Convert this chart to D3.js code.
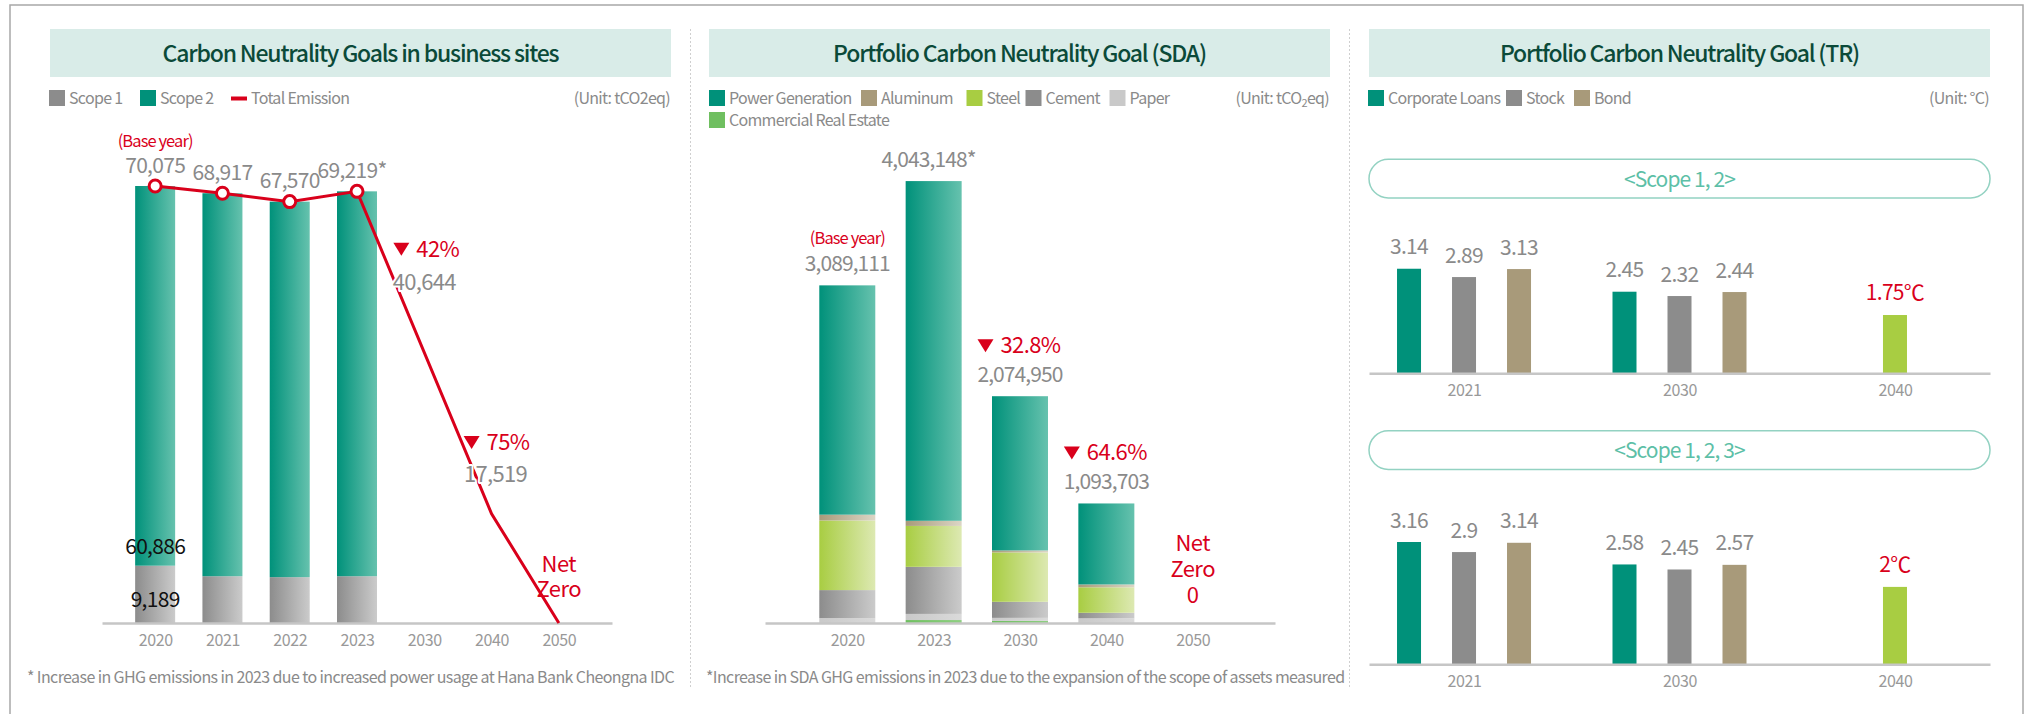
<!DOCTYPE html>
<html><head><meta charset="utf-8">
<script src="https://cdn.jsdelivr.net/npm/d3@7"></script>
<style>body{margin:0;background:#fff}svg{display:block}</style>
</head><body>
<script>
// ================= DATA =================
// Panel 1 : Carbon Neutrality Goals in business sites (tCO2eq)
const siteYears = ['2020','2021','2022','2023','2030','2040','2050'];
const siteBarYears = ['2020','2021','2022','2023'];
const siteScope1 = [9189, 7500, 7350, 7500];
const siteScope2 = [60886, 61417, 60220, 61719];
const siteTotals = [70075, 68917, 67570, 69219, 40644, 17519, 0];
const siteLineYears = ['2020','2021','2022','2023','2040','2050'];
const siteLineValues = [70075, 68917, 67570, 69219, 17519, 0];
const siteCutYears = ['2030','2040'];
const siteCuts = ['42%','75%'];

// Panel 2 : Portfolio Carbon Neutrality Goal (SDA) (tCO2eq)
const sdaYears = ['2020','2023','2030','2040','2050'];
const sdaTotals = [3089111, 4043148, 2074950, 1093703, 0];
const sdaPower = [2098000, 3108000, 1411000, 741000, 0];
const sdaAluminum = [53000, 47000, 18000, 26000, 0];
const sdaSteel = [637000, 374000, 452000, 233000, 0];
const sdaCement = [256000, 431000, 147000, 51000, 0];
const sdaPaper = [45111, 56000, 28000, 42703, 0];
const sdaRealEstate = [0, 27148, 18950, 0, 0];
const sdaCutYears = ['2030','2040'];
const sdaCuts = ['32.8%','64.6%'];

// Panel 3 : Portfolio Carbon Neutrality Goal (TR) (°C)
const trYears = ['2021','2030','2040'];
const trSeries = ['Corporate Loans','Stock','Bond'];
const trS12Loans = [3.14, 2.45];
const trS12Stock = [2.89, 2.32];
const trS12Bond = [3.13, 2.44];
const trS12Target = 1.75;   // 2040
const trS123Loans = [3.16, 2.58];
const trS123Stock = [2.9, 2.45];
const trS123Bond = [3.14, 2.57];
const trS123Target = 2;     // 2040

// ================= STYLE =================
const C = {
  teal:'#00917a', tealL:'#66c2ae', gray:'#8c8c8c', grayL:'#cbcbcb',
  tan:'#a89a7a', tanL:'#dcd6c6', lime:'#a8cd42', limeL:'#dde9b2',
  paper:'#c9c9c9', paperL:'#dadada', cre:'#6fbf60', red:'#d9001b',
  txt:'#8a8a8a', axis:'#c6c6c6', title:'#0b4a39', titleBg:'#d9ece8'
};
const FONT = "'Noto Sans CJK KR','Noto Sans',sans-serif";

const svg = d3.select('body').append('svg').attr('width',2037).attr('height',714)
  .style('font-family', FONT);
const defs = svg.append('defs');
function grad(id, c0, c1){
  const g = defs.append('linearGradient').attr('id',id).attr('x1',0).attr('x2',1).attr('y1',0).attr('y2',0);
  g.append('stop').attr('offset',0).attr('stop-color',c0);
  g.append('stop').attr('offset',1).attr('stop-color',c1);
  return `url(#${id})`;
}
const G = {
  teal: grad('gTeal', C.teal, C.tealL),
  gray: grad('gGray', C.gray, C.grayL),
  tan: grad('gTan', C.tan, C.tanL),
  lime: grad('gLime', C.lime, C.limeL),
  paper: grad('gPaper', C.paper, C.paperL),
  cre: grad('gCre', C.cre, '#8fcf82')
};

function T(g, x, y, s, o = {}){
  const size = o.size || 16;
  const t = g.append('text').attr('x',x).attr('y',y).text(s)
    .attr('font-size', size).attr('fill', o.color || C.txt)
    .attr('text-anchor', o.anchor || 'start').attr('font-weight', o.weight || 400)
    .attr('letter-spacing', o.ls !== undefined ? o.ls : -0.045*size);
  if (o.halo) t.attr('stroke','#fff').attr('stroke-width',4).attr('paint-order','stroke').attr('stroke-linejoin','round');
  return t;
}
function stackedText(g, x, y, lines, gap, o){
  const t = T(g, x, y, null, o);
  lines.forEach((s,i)=> t.append('tspan').attr('x',x).attr('dy', i===0?0:gap).text(s));
  return t;
}
function tri(g, x, y, w, h){
  g.append('path').attr('d',`M${x},${y}L${x+w},${y}L${x+w/2},${y+h}Z`).attr('fill',C.red);
}
// ▼ NN% group centred on cx
function cut(g, cx, base, label){
  const t = T(g, 0, base, label, {size:22, color:C.red, ls:-0.6});
  const tw = t.node().getComputedTextLength();
  const total = 16 + 7 + tw;
  const left = cx - total/2;
  t.attr('x', left + 23);
  tri(g, left, base - 14, 16, 13);
}
function styleAxis(ax){
  ax.select('.domain').attr('stroke',C.axis).attr('stroke-width',2.5);
  ax.selectAll('text').attr('font-size',16).attr('fill','#999').attr('font-family',FONT).attr('letter-spacing',-0.4);
}

// ================= FRAME / PANELS =================
svg.append('path').attr('d','M10,714V5H2023V714').attr('fill','none')
  .attr('stroke','#a8a8a8').attr('stroke-width',1.5);
[690.5, 1349.5].forEach(x => svg.append('line').attr('x1',x).attr('x2',x).attr('y1',29).attr('y2',688)
  .attr('stroke','#cfcfcf').attr('stroke-width',1).attr('stroke-dasharray','2,2'));

function titleBox(x0, x1, s){
  svg.append('rect').attr('x',x0).attr('y',29).attr('width',x1-x0).attr('height',48).attr('fill',C.titleBg);
  T(svg, (x0+x1)/2, 62, s, {size:23, color:C.title, anchor:'middle', weight:500, ls:-1.2});
}
function legendSq(x, y, color, label){
  svg.append('rect').attr('x',x).attr('y',y).attr('width',16).attr('height',16).attr('fill',color);
  T(svg, x+20, y+14, label, {size:16, ls:-0.7});
}

// ================= PANEL 1 =================
titleBox(50, 671, 'Carbon Neutrality Goals in business sites');
legendSq(49, 90, C.gray, 'Scope 1');
legendSq(140, 90, C.teal, 'Scope 2');
svg.append('rect').attr('x',231).attr('y',96.5).attr('width',16).attr('height',4).attr('fill',C.red);
T(svg, 251, 104, 'Total Emission', {size:16, ls:-0.7});
T(svg, 670, 104, '(Unit: tCO2eq)', {size:16, anchor:'end', ls:-0.7});

const p1 = svg.append('g');
const x1 = d3.scalePoint().domain(siteYears).range([102, 612]).padding(0.79);
const y1 = d3.scaleLinear().domain([0, 70075]).range([623, 186]);
const bw1 = 40;
siteBarYears.forEach((yr, i) => {
  const s1 = siteScope1[i], s2 = siteScope2[i];
  p1.append('rect').attr('x', x1(yr)-bw1/2).attr('y', y1(s1)).attr('width', bw1)
    .attr('height', y1(0)-y1(s1)).attr('fill', G.gray);
  p1.append('rect').attr('x', x1(yr)-bw1/2).attr('y', y1(s1+s2)).attr('width', bw1)
    .attr('height', y1(s1)-y1(s1+s2)).attr('fill', G.teal);
});
styleAxis(p1.append('g').attr('transform','translate(0,623)')
  .call(d3.axisBottom(x1).tickSize(0).tickPadding(12)));

const lineData = siteLineYears.map((y,i)=>({year:y, v:siteLineValues[i]}));
p1.append('path').datum(lineData)
  .attr('d', d3.line().x(d=>x1(d.year)).y(d=>y1(d.v)))
  .attr('fill','none').attr('stroke',C.red).attr('stroke-width',3);
p1.selectAll('circle.pt').data(lineData.filter(d=>siteBarYears.includes(d.year))).join('circle')
  .attr('cx',d=>x1(d.year)).attr('cy',d=>y1(d.v)).attr('r',6)
  .attr('fill','#fff').attr('stroke',C.red).attr('stroke-width',3);

const fmt = d3.format(',');
siteBarYears.forEach((yr,i)=>{
  T(p1, x1(yr) - (i===3?5:0), y1(siteTotals[i]) - 13.5, fmt(siteTotals[i]) + (i===3?'*':''), {size:21, anchor:'middle', ls:-0.7});
});
T(p1, x1('2020'), y1(siteTotals[0]) - 39.5, '(Base year)', {size:16.5, color:C.red, anchor:'middle', ls:-0.9});
T(p1, x1('2020'), y1(siteTotals[0]) + 368, fmt(siteScope2[0]), {size:21, color:'#111', anchor:'middle', ls:-0.7});
T(p1, x1('2020'), y1(0) - 16, fmt(siteScope1[0]), {size:21, color:'#111', anchor:'middle', ls:-0.7});
// 2030 / 2040 targets
T(p1, x1('2030'), 290, fmt(siteTotals[4]), {size:22, anchor:'middle', halo:true, ls:-0.7});
cut(p1, x1('2030')+2, 256.7, siteCuts[0]);
T(p1, x1('2040')+4, y1(siteTotals[5]) - 32, fmt(siteTotals[5]), {size:22, anchor:'middle', halo:true, ls:-0.7});
cut(p1, x1('2040')+5, 450, siteCuts[1]);
stackedText(p1, x1('2050'), y1(0) - 51, ['Net','Zero'], 25, {size:22, color:C.red, anchor:'middle', ls:-0.5});

T(svg, 27, 683, '* Increase in GHG emissions in 2023 due to increased power usage at Hana Bank Cheongna IDC', {size:16, ls:-0.6});

// ================= PANEL 2 =================
titleBox(709, 1330, 'Portfolio Carbon Neutrality Goal (SDA)');
legendSq(709, 90, C.teal, 'Power Generation');
legendSq(861, 90, C.tan, 'Aluminum');
legendSq(966.5, 90, C.lime, 'Steel');
legendSq(1025.5, 90, C.gray, 'Cement');
legendSq(1109.5, 90, C.paper, 'Paper');
legendSq(709, 112, C.cre, 'Commercial Real Estate');
{
  const u = T(svg, 1329, 104, '(Unit: tCO', {size:16, anchor:'end', ls:-0.7});
  u.append('tspan').text('2').attr('font-size',11).attr('dy',3);
  u.append('tspan').text('eq)').attr('dy',-3);
}

const p2 = svg.append('g');
const x2 = d3.scalePoint().domain(sdaYears).range([765, 1275]).padding(0.953);
const y2 = d3.scaleLinear().domain([0, 4000000]).range([623, 185.8]);
const bw2 = 56;
const sdaKeys = ['Commercial Real Estate','Paper','Cement','Steel','Aluminum','Power Generation'];
const sdaFill = {'Commercial Real Estate':G.cre, 'Paper':G.paper, 'Cement':G.gray, 'Steel':G.lime, 'Aluminum':G.tan, 'Power Generation':G.teal};
const sdaRows = sdaYears.map((yr,i)=>({year:yr, 'Power Generation':sdaPower[i], 'Aluminum':sdaAluminum[i],
  'Steel':sdaSteel[i], 'Cement':sdaCement[i], 'Paper':sdaPaper[i], 'Commercial Real Estate':sdaRealEstate[i]}));
const stack = d3.stack().keys(sdaKeys)(sdaRows);
p2.selectAll('g.layer').data(stack).join('g').attr('fill', d=>sdaFill[d.key])
  .selectAll('rect').data(d=>d.filter(s=>s[1]>s[0])).join('rect')
  .attr('x', d=>x2(d.data.year)-bw2/2).attr('width', bw2)
  .attr('y', d=>y2(d[1])).attr('height', d=>y2(d[0])-y2(d[1]));
styleAxis(p2.append('g').attr('transform','translate(0,623)')
  .call(d3.axisBottom(x2).tickSize(0).tickPadding(12)));

sdaYears.slice(0,4).forEach((yr,i)=>{
  T(p2, x2(yr) - (i===1?5:0), y2(sdaTotals[i]) - 14, fmt(sdaTotals[i]) + (i===1?'*':''), {size:21, anchor:'middle', ls:-0.9});
});
T(p2, x2('2020'), y2(sdaTotals[0]) - 41, '(Base year)', {size:16.5, color:C.red, anchor:'middle', ls:-0.9});
sdaCutYears.forEach((yr,i)=>{
  const k = sdaYears.indexOf(yr);
  cut(p2, x2(yr) - 1, y2(sdaTotals[k]) - 43, sdaCuts[i]);
});
stackedText(p2, x2('2050'), y2(0) - 72, ['Net','Zero', fmt(sdaTotals[4])], 26.2, {size:22, color:C.red, anchor:'middle', ls:-0.5});

T(svg, 706, 683, '*Increase in SDA GHG emissions in 2023 due to the expansion of the scope of assets measured', {size:16, ls:-0.6});

// ================= PANEL 3 =================
titleBox(1369, 1990, 'Portfolio Carbon Neutrality Goal (TR)');
legendSq(1368, 90, C.teal, 'Corporate Loans');
legendSq(1506, 90, C.gray, 'Stock');
legendSq(1574, 90, C.tan, 'Bond');
T(svg, 1989, 104, '(Unit: °C)', {size:16, anchor:'end', ls:-0.7});

const x3 = d3.scalePoint().domain(trYears).range([1369, 1990]).padding(0.441);
const sub3 = d3.scaleBand().domain(trSeries).range([-82.5, 82.5]);
const trColor = {'Corporate Loans':C.teal, 'Stock':C.gray, 'Bond':C.tan};
const bw3 = 24;

function pill(y, label){
  svg.append('rect').attr('x',1369).attr('y',y).attr('width',621).attr('height',38.7).attr('rx',19.35)
    .attr('fill','#fff').attr('stroke','#93d2c2').attr('stroke-width',1.5);
  T(svg, 1679.5, y+27.4, label, {size:21, color:'#5dbfa7', anchor:'middle', ls:-0.9});
}
function trChart(base, pxPerDeg, loans, stock, bond, target){
  const g = svg.append('g');
  const y = d3.scaleLinear().domain([0, 3.5]).range([base, base - 3.5*pxPerDeg]);
  const rows = [];
  trYears.slice(0,2).forEach((yr,i)=>{
    rows.push({year:yr, s:'Corporate Loans', v:loans[i]});
    rows.push({year:yr, s:'Stock', v:stock[i]});
    rows.push({year:yr, s:'Bond', v:bond[i]});
  });
  g.selectAll('rect.b').data(rows).join('rect')
    .attr('x', d=>x3(d.year)+sub3(d.s)+sub3.bandwidth()/2-bw3/2).attr('width',bw3)
    .attr('y', d=>y(d.v)).attr('height', d=>y(0)-y(d.v)).attr('fill', d=>trColor[d.s]);
  g.selectAll('text.v').data(rows).join('text')
    .attr('x', d=>x3(d.year)+sub3(d.s)+sub3.bandwidth()/2).attr('y', d=>y(d.v)-14.5)
    .attr('text-anchor','middle').attr('font-size',21).attr('letter-spacing',-0.7)
    .attr('fill',C.txt).text(d=>String(d.v));
  g.append('rect').attr('x', x3('2040')-bw3/2).attr('width',bw3).attr('y', y(target))
    .attr('height', y(0)-y(target)).attr('fill', C.lime);
  T(g, x3('2040'), y(target)-15, String(target)+'℃', {size:21, color:C.red, anchor:'middle', ls:-0.7});
  styleAxis(g.append('g').attr('transform',`translate(0,${base})`)
    .call(d3.axisBottom(x3).tickSize(0).tickPadding(11)));
}
pill(159.3, '<Scope 1, 2>');
trChart(373.3, 33.3, trS12Loans, trS12Stock, trS12Bond, trS12Target);
pill(430.7, '<Scope 1, 2, 3>');
trChart(664.3, 38.7, trS123Loans, trS123Stock, trS123Bond, trS123Target);
</script>
</body></html>
